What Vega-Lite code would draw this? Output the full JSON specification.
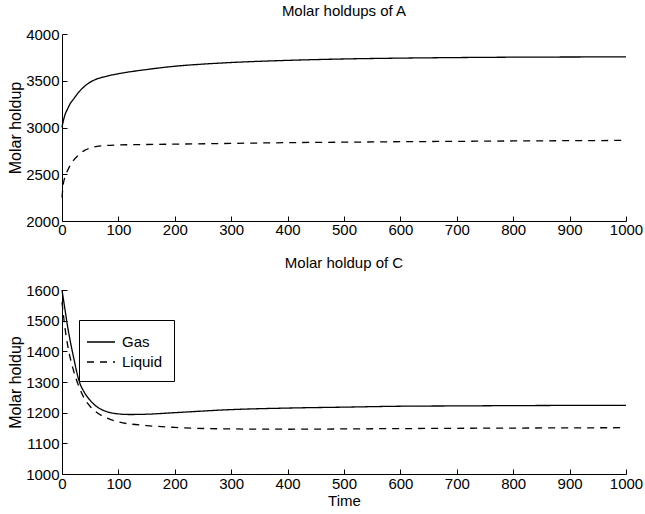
{
  "$schema": "https://vega.github.io/schema/vega-lite/v6.json",
  "padding": {"left": 7, "top": 4, "right": 12, "bottom": 2},
  "background": "white",
  "spacing": 19,
  "resolve": {"legend": {"strokeDash": "independent"}, "scale": {"strokeDash": "independent"}},
  "config": {
    "font": "Liberation Sans",
    "view": {"stroke": null},
    "title": {"fontSize": 15, "fontWeight": "normal", "color": "black", "offset": 12},
    "axis": {
      "grid": false,
      "domainColor": "black",
      "tickColor": "black",
      "tickSize": -5,
      "labelPadding": 6,
      "labelFontSize": 15,
      "labelColor": "black",
      "labelFlush": false,
      "labelOverlap": false,
      "format": "d",
      "titleFontSize": 16,
      "titleFontWeight": "normal",
      "titleColor": "black",
      "titlePadding": 3,
      "domainWidth": 1,
      "tickWidth": 1
    },
    "axisY": {"labelPadding": 8, "titlePadding": 2}
  },
  "datasets": {
    "A": [
      {"phase": "Gas", "t": 0, "v": 3000}, {"phase": "Gas", "t": 2, "v": 3060}, {"phase": "Gas", "t": 5, "v": 3130},
      {"phase": "Gas", "t": 10, "v": 3200}, {"phase": "Gas", "t": 15, "v": 3260}, {"phase": "Gas", "t": 20, "v": 3300},
      {"phase": "Gas", "t": 30, "v": 3380}, {"phase": "Gas", "t": 40, "v": 3440}, {"phase": "Gas", "t": 50, "v": 3485},
      {"phase": "Gas", "t": 60, "v": 3515}, {"phase": "Gas", "t": 80, "v": 3550}, {"phase": "Gas", "t": 100, "v": 3575},
      {"phase": "Gas", "t": 150, "v": 3620}, {"phase": "Gas", "t": 200, "v": 3655}, {"phase": "Gas", "t": 250, "v": 3678},
      {"phase": "Gas", "t": 300, "v": 3695}, {"phase": "Gas", "t": 400, "v": 3718}, {"phase": "Gas", "t": 500, "v": 3733},
      {"phase": "Gas", "t": 600, "v": 3742}, {"phase": "Gas", "t": 700, "v": 3748}, {"phase": "Gas", "t": 800, "v": 3752},
      {"phase": "Gas", "t": 900, "v": 3754}, {"phase": "Gas", "t": 1000, "v": 3755},
      {"phase": "Liquid", "t": 0, "v": 2250}, {"phase": "Liquid", "t": 2, "v": 2380}, {"phase": "Liquid", "t": 5, "v": 2470},
      {"phase": "Liquid", "t": 10, "v": 2540}, {"phase": "Liquid", "t": 15, "v": 2600}, {"phase": "Liquid", "t": 20, "v": 2645},
      {"phase": "Liquid", "t": 30, "v": 2710}, {"phase": "Liquid", "t": 40, "v": 2755}, {"phase": "Liquid", "t": 50, "v": 2780},
      {"phase": "Liquid", "t": 60, "v": 2795}, {"phase": "Liquid", "t": 80, "v": 2808}, {"phase": "Liquid", "t": 100, "v": 2813},
      {"phase": "Liquid", "t": 150, "v": 2818}, {"phase": "Liquid", "t": 200, "v": 2822}, {"phase": "Liquid", "t": 300, "v": 2830},
      {"phase": "Liquid", "t": 400, "v": 2838}, {"phase": "Liquid", "t": 500, "v": 2843}, {"phase": "Liquid", "t": 600, "v": 2848},
      {"phase": "Liquid", "t": 700, "v": 2852}, {"phase": "Liquid", "t": 800, "v": 2856}, {"phase": "Liquid", "t": 900, "v": 2859},
      {"phase": "Liquid", "t": 1000, "v": 2862}
    ],
    "C": [
      {"phase": "Gas", "t": 0, "v": 1600}, {"phase": "Gas", "t": 5, "v": 1540}, {"phase": "Gas", "t": 10, "v": 1480},
      {"phase": "Gas", "t": 15, "v": 1430}, {"phase": "Gas", "t": 20, "v": 1385}, {"phase": "Gas", "t": 30, "v": 1305},
      {"phase": "Gas", "t": 40, "v": 1265}, {"phase": "Gas", "t": 50, "v": 1240}, {"phase": "Gas", "t": 60, "v": 1222},
      {"phase": "Gas", "t": 80, "v": 1203}, {"phase": "Gas", "t": 100, "v": 1196}, {"phase": "Gas", "t": 120, "v": 1194},
      {"phase": "Gas", "t": 150, "v": 1195}, {"phase": "Gas", "t": 200, "v": 1200}, {"phase": "Gas", "t": 300, "v": 1210},
      {"phase": "Gas", "t": 400, "v": 1215}, {"phase": "Gas", "t": 500, "v": 1218}, {"phase": "Gas", "t": 600, "v": 1221},
      {"phase": "Gas", "t": 700, "v": 1222}, {"phase": "Gas", "t": 800, "v": 1223}, {"phase": "Gas", "t": 1000, "v": 1224},
      {"phase": "Liquid", "t": 0, "v": 1560}, {"phase": "Liquid", "t": 5, "v": 1480}, {"phase": "Liquid", "t": 10, "v": 1420},
      {"phase": "Liquid", "t": 20, "v": 1340}, {"phase": "Liquid", "t": 30, "v": 1285}, {"phase": "Liquid", "t": 40, "v": 1245},
      {"phase": "Liquid", "t": 50, "v": 1220}, {"phase": "Liquid", "t": 60, "v": 1203}, {"phase": "Liquid", "t": 80, "v": 1182},
      {"phase": "Liquid", "t": 100, "v": 1170}, {"phase": "Liquid", "t": 150, "v": 1158}, {"phase": "Liquid", "t": 200, "v": 1152},
      {"phase": "Liquid", "t": 300, "v": 1147}, {"phase": "Liquid", "t": 400, "v": 1146}, {"phase": "Liquid", "t": 500, "v": 1147},
      {"phase": "Liquid", "t": 700, "v": 1149}, {"phase": "Liquid", "t": 1000, "v": 1151}
    ]
  },
  "vconcat": [
    {
      "width": 564,
      "height": 187,
      "title": {"text": "Molar holdups of A", "offset": 8},
      "data": {"name": "A"},
      "mark": {"type": "line", "color": "black", "strokeWidth": 1.3, "interpolate": "monotone"},
      "encoding": {
        "x": {"field": "t", "type": "quantitative", "scale": {"domain": [0, 1000], "nice": false}, "axis": {"title": null, "values": [0, 100, 200, 300, 400, 500, 600, 700, 800, 900, 1000]}},
        "y": {"field": "v", "type": "quantitative", "scale": {"domain": [2000, 4000], "nice": false, "zero": false}, "axis": {"title": "Molar holdup", "values": [2000, 2500, 3000, 3500, 4000]}},
        "strokeDash": {"field": "phase", "type": "nominal", "scale": {"domain": ["Gas", "Liquid"], "range": [[1, 0], [7, 6]]}, "legend": null}
      }
    },
    {
      "width": 564,
      "height": 184,
      "title": {"text": "Molar holdup of C", "offset": 12},
      "data": {"name": "C"},
      "mark": {"type": "line", "color": "black", "strokeWidth": 1.3, "interpolate": "monotone"},
      "encoding": {
        "x": {"field": "t", "type": "quantitative", "scale": {"domain": [0, 1000], "nice": false}, "axis": {"title": "Time", "titleFontSize": 15, "titlePadding": 2, "labelPadding": 7, "values": [0, 100, 200, 300, 400, 500, 600, 700, 800, 900, 1000]}},
        "y": {"field": "v", "type": "quantitative", "scale": {"domain": [1000, 1600], "nice": false, "zero": false}, "axis": {"title": "Molar holdup", "values": [1000, 1100, 1200, 1300, 1400, 1500, 1600]}},
        "strokeDash": {
          "field": "phase", "type": "nominal",
          "scale": {"domain": ["Gas", "Liquid"], "range": [[1, 0], [7, 6]]},
          "legend": {
            "title": null, "orient": "none", "legendX": 17, "legendY": 30,
            "strokeColor": "black", "fillColor": "white", "padding": 11,
            "symbolType": "M-1.4,0H1.4", "symbolSize": 400, "symbolStrokeColor": "black", "symbolStrokeWidth": 1.3,
            "labelFontSize": 15, "labelColor": "black", "rowPadding": 1, "labelOffset": 10, "offset": 0
          }
        }
      }
    }
  ]
}
